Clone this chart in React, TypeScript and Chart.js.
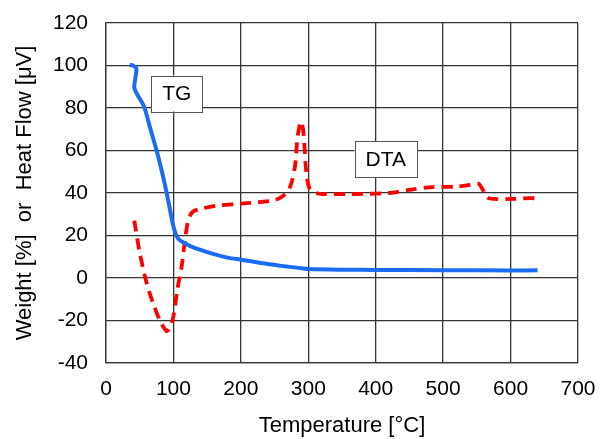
import React, { useEffect, useRef } from "react";
import { Chart, registerables } from "chart.js";

Chart.register(...registerables);

const xTicks = [0, 100, 200, 300, 400, 500, 600, 700];
const yTicks = [-40, -20, 0, 20, 40, 60, 80, 100, 120];

const tgTemp = [35, 40, 45, 43, 42, 46, 56, 66, 75, 83, 90, 95, 98, 102, 106, 112, 125, 140, 160, 180, 200, 230, 260, 290, 300, 350, 400, 500, 600, 640];
const tgWeight = [100.3, 100, 98.5, 93, 89.5, 86.5, 81, 70, 60, 50, 40, 32, 27, 22, 19, 17.2, 15, 13.2, 11.2, 9.6, 8.6, 7.1, 5.7, 4.6, 4.2, 3.9, 3.8, 3.7, 3.5, 3.6];

const dtaTemp = [42, 50, 60, 70, 80, 90, 95, 100, 106, 112, 118, 122, 128, 140, 164, 200, 248, 262, 272, 280, 284, 288, 290, 293, 297, 302, 312, 322, 360, 420, 450, 485, 520, 540, 552, 558, 565, 575, 604, 636, 640];
const dtaHeat = [27, 12, -2, -12, -20, -25, -23, -18, -5, 5, 20, 27, 31, 32.5, 34, 35, 36.5, 38.5, 42, 52, 66, 73, 73.5, 68, 50, 42, 40, 39.5, 39.5, 40, 41.5, 42.8, 43, 43.8, 44.5, 42, 38, 37.2, 37.2, 37.5, 35.5];

const labelTexts = ["TG", "DTA"];
const labelX = [105, 415];
const labelY = [86.8, 56];

const FONT = "'Liberation Sans', Arial, sans-serif";

const labelPlugin = {
  id: "boxLabels",
  afterDatasetsDraw(chart: any) {
    const ctx = chart.ctx;
    const xs = chart.scales.x;
    const ys = chart.scales.y;
    ctx.save();
    ctx.font = `21px ${FONT}`;
    ctx.textAlign = "center";
    ctx.textBaseline = "middle";
    labelTexts.forEach((t, i) => {
      const cx = xs.getPixelForValue(labelX[i]);
      const cy = ys.getPixelForValue(labelY[i]);
      const w = ctx.measureText(t).width + 22;
      const h = 36;
      ctx.fillStyle = "#ffffff";
      ctx.fillRect(cx - w / 2, cy - h / 2, w, h);
      ctx.strokeStyle = "#555555";
      ctx.lineWidth = 1;
      ctx.strokeRect(Math.round(cx - w / 2) + 0.5, Math.round(cy - h / 2) + 0.5, Math.round(w), h);
      ctx.fillStyle = "#000000";
      ctx.fillText(t, cx, cy + 1);
    });
    ctx.restore();
  },
};

export default function App() {
  const ref = useRef<HTMLCanvasElement>(null);
  useEffect(() => {
    document.body.style.margin = "0";
    if (!ref.current) return;
    Chart.defaults.font.family = FONT;
    const chart = new Chart(ref.current, {
      type: "line",
      data: {
        datasets: [
          {
            label: "TG",
            data: tgTemp.map((x, i) => ({ x, y: tgWeight[i] })),
            borderColor: "#1a6cf5",
            borderWidth: 4,
            pointRadius: 0,
            tension: 0.3,
            fill: false,
          },
          {
            label: "DTA",
            data: dtaTemp.map((x, i) => ({ x, y: dtaHeat[i] })),
            borderColor: "#ff0000",
            borderWidth: 3.8,
            borderDash: [11, 7],
            pointRadius: 0,
            tension: 0.3,
            fill: false,
          },
        ],
      },
      options: {
        animation: false,
        responsive: false,
        maintainAspectRatio: false,
        layout: { padding: { top: 23, right: 22, left: 0, bottom: 0 } },
        plugins: { legend: { display: false }, tooltip: { enabled: false } },
        scales: {
          x: {
            type: "linear",
            min: 0,
            max: 700,
            afterBuildTicks: (axis: any) => {
              axis.ticks = xTicks.map((v) => ({ value: v }));
            },
            afterFit: (axis: any) => {
              axis.height = 76;
              axis.paddingLeft = 0;
              axis.paddingRight = 0;
            },
            ticks: { color: "#000", font: { size: 21 }, padding: 14, maxRotation: 0 },
            grid: { color: "#333", lineWidth: 1.3, drawTicks: false },
            border: { color: "#333", width: 1.3 },
            title: { display: true, text: "Temperature [°C]", color: "#000", font: { size: 22 }, padding: 0 },
          },
          y: {
            type: "linear",
            min: -40,
            max: 120,
            afterBuildTicks: (axis: any) => {
              axis.ticks = yTicks.map((v) => ({ value: v }));
            },
            afterFit: (axis: any) => {
              axis.width = 106;
              axis.paddingTop = 0;
              axis.paddingBottom = 0;
            },
            ticks: { color: "#000", font: { size: 21 }, padding: 18 },
            grid: { color: "#333", lineWidth: 1.3, drawTicks: false },
            border: { color: "#333", width: 1.3 },
            title: { display: true, text: "Weight [%]  or  Heat Flow [μV]", color: "#000", font: { size: 22 }, padding: { top: 12, bottom: 0 } },
          },
        },
      },
      plugins: [labelPlugin],
    });
    return () => chart.destroy();
  }, []);
  return (
    <div style={{ position: "absolute", left: 0, top: 0, width: 600, height: 439 }}>
      <canvas ref={ref} width={600} height={439} style={{ display: "block" }} />
    </div>
  );
}
